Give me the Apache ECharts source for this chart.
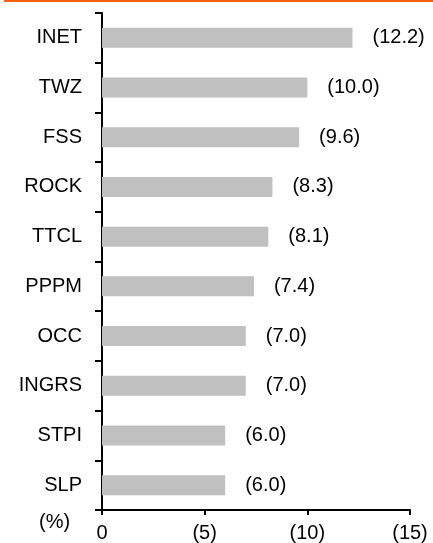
<!DOCTYPE html>
<html>
<head>
<meta charset="utf-8">
<script src="https://cdn.jsdelivr.net/npm/echarts@6/dist/echarts.min.js"></script>
<style>
html,body{margin:0;padding:0;background:#fff;}
#chart{width:433px;height:543px;}
</style>
</head>
<body>
<div id="chart"></div>
<script>
const categories = ['INET','TWZ','FSS','ROCK','TTCL','PPPM','OCC','INGRS','STPI','SLP'];
const values = [12.2, 10.0, 9.6, 8.3, 8.1, 7.4, 7.0, 7.0, 6.0, 6.0];
const unitLabel = '(%)';

const FONT = "Arial, 'Liberation Sans', sans-serif";
const chart = echarts.init(document.getElementById('chart'), null, {renderer:'canvas'});
chart.setOption({
  animation: false,
  backgroundColor: '#fff',
  grid: {left: 102, right: 23, top: 13, bottom: 32, containLabel: false},
  graphic: [
    {type:'rect', shape:{x:4, y:0, width:429, height:2}, style:{fill:'#F5620F'}},
    {type:'text', left: 39, top: 512, style:{text: unitLabel, font: '20px ' + FONT, fill:'#000'}}
  ],
  xAxis: {
    type: 'value', min: 0, max: 15, interval: 5,
    axisLine: {show: true, lineStyle: {color:'#000', width: 2}},
    axisTick: {show: true, length: 5, lineStyle: {color:'#000', width: 2}},
    splitLine: {show: false},
    axisLabel: {
      margin: 13, color: '#000', fontSize: 20, fontFamily: FONT,
      formatter: v => v === 0 ? '0' : '(' + v + ')'
    }
  },
  yAxis: {
    type: 'category', data: categories, inverse: true,
    axisLine: {show: true, lineStyle: {color:'#000', width: 2}},
    axisTick: {show: true, length: 7, lineStyle: {color:'#000', width: 2}},
    axisLabel: {margin: 20, color: '#000', fontSize: 20, fontFamily: FONT}
  },
  series: [{
    type: 'bar', data: values, barWidth: 20,
    itemStyle: {color: '#C0C0C0'},
    label: {
      show: true, position: 'right', distance: 20,
      color: '#000', fontSize: 20, fontFamily: FONT,
      formatter: p => '(' + p.value.toFixed(1) + ')'
    }
  }]
});
</script>
</body>
</html>
